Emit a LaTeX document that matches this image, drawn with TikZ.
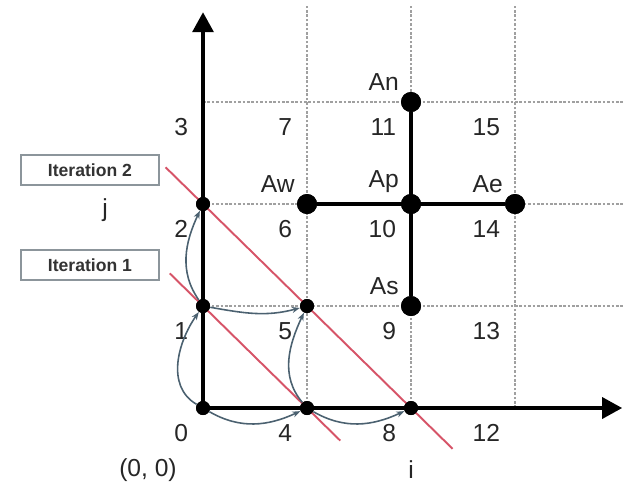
\documentclass[tikz,border=0pt]{standalone}
\usepackage{fontspec}
\setmainfont{Liberation Sans}
\usetikzlibrary{calc,arrows.meta,positioning}
\definecolor{gridx}{HTML}{A0A0A0}
\definecolor{redx}{HTML}{D65468}
\definecolor{slatex}{HTML}{4B6170}
\definecolor{framex}{HTML}{8C959B}
\tikzset{
  ax/.style={line width=2pt,-{Triangle[length=4mm,width=4.2mm]}},
  gl/.style={gridx,line width=1.5pt,densely dotted},
  rl/.style={redx,line width=1.1pt},
  fl/.style={slatex,line width=0.9pt,-{Stealth[length=1.6mm]}},
  sd/.style={circle,fill=black,inner sep=0pt,minimum size=2.8mm},
  bd/.style={circle,fill=black,inner sep=0pt,minimum size=4mm},
  num/.style={anchor=north east,inner sep=0pt,text=black!85,font=\fontsize{14}{16}\selectfont},
  lb/.style={anchor=south east,inner sep=0pt,text=black!85,font=\fontsize{14}{16}\selectfont},
  box/.style={draw=framex,line width=1.2pt,fill=white,minimum width=2.76cm,minimum height=0.6cm,inner sep=0pt,text=black!80,font=\bfseries\fontsize{10}{12}\selectfont}
}
\begin{document}
\begin{tikzpicture}[x=2.08cm,y=2.04cm]
\useasboundingbox (-1.952,-0.814) rectangle (4.096,4.0);
\foreach \k in {1,2,3}{
  \draw[gl] (\k,0) -- (\k,3.95);
  \draw[gl] (0,\k) -- (4.04,\k);
}
\node[sd] (n0) at (0,0) {};
\node[sd] (n1) at (0,1) {};
\node[sd] (n2) at (0,2) {};
\node[sd] (n4) at (1,0) {};
\node[sd] (n5) at (1,1) {};
\node[sd] (n8) at (2,0) {};
\draw[rl] ($(n1)!-0.32!(n4)$) -- ($(n1)!1.32!(n4)$);
\draw[rl] ($(n2)!-0.18!(n8)$) -- ($(n2)!1.2!(n8)$);
\draw[ax] (0,0) -- (0,3.88);
\draw[ax] (0,0) -- (4.03,0);
\node[bd] (Ap) at (2,2) {};
\node[bd] (An) at (2,3) {};
\node[bd] (As) at (2,1) {};
\node[bd] (Aw) at (1,2) {};
\node[bd] (Ae) at (3,2) {};
\draw[line width=1.8pt] (An) -- (As);
\draw[line width=1.8pt] (Aw) -- (Ae);
\foreach \d in {n0,n1,n2,n4,n5,n8}{\node[sd] at (\d) {};}
\foreach \d in {An,As,Aw,Ae,Ap}{
  \node[bd] at (\d) {};
  \node[lb] (t\d) at ($(\d)+(-0.115,0.11)$) {\d};
}
\foreach \i in {0,...,3}{\foreach \j in {0,...,3}{
  \pgfmathtruncatemacro\n{4*\i+\j}
  \node[num] (c\n) at ({\i-0.14},{\j-0.16}) {\n};
}}
\draw[fl] (n0) to[out=150,in=235] (n1);
\draw[fl] (n1) to[out=125,in=245] (n2);
\draw[fl] (n0) to[out=-30,in=205] (n4);
\draw[fl] (n4) to[out=-30,in=205] (n8);
\draw[fl] (n1) to[out=-10,in=195] (n5);
\draw[fl] (n4) to[out=130,in=245] (n5);
\node[box] (it2) at (-1.087,2.333) {Iteration 2};
\node[box] (it1) at (-1.087,1.402) {Iteration 1};
\node[lb,anchor=center] (lj) at (-0.942,1.941) {j};
\node[lb,anchor=center] (li) at (2.0,-0.608) {i};
\node[lb,anchor=center] (lo) at (-0.529,-0.608) {(0, 0)};
\end{tikzpicture}
\end{document}
